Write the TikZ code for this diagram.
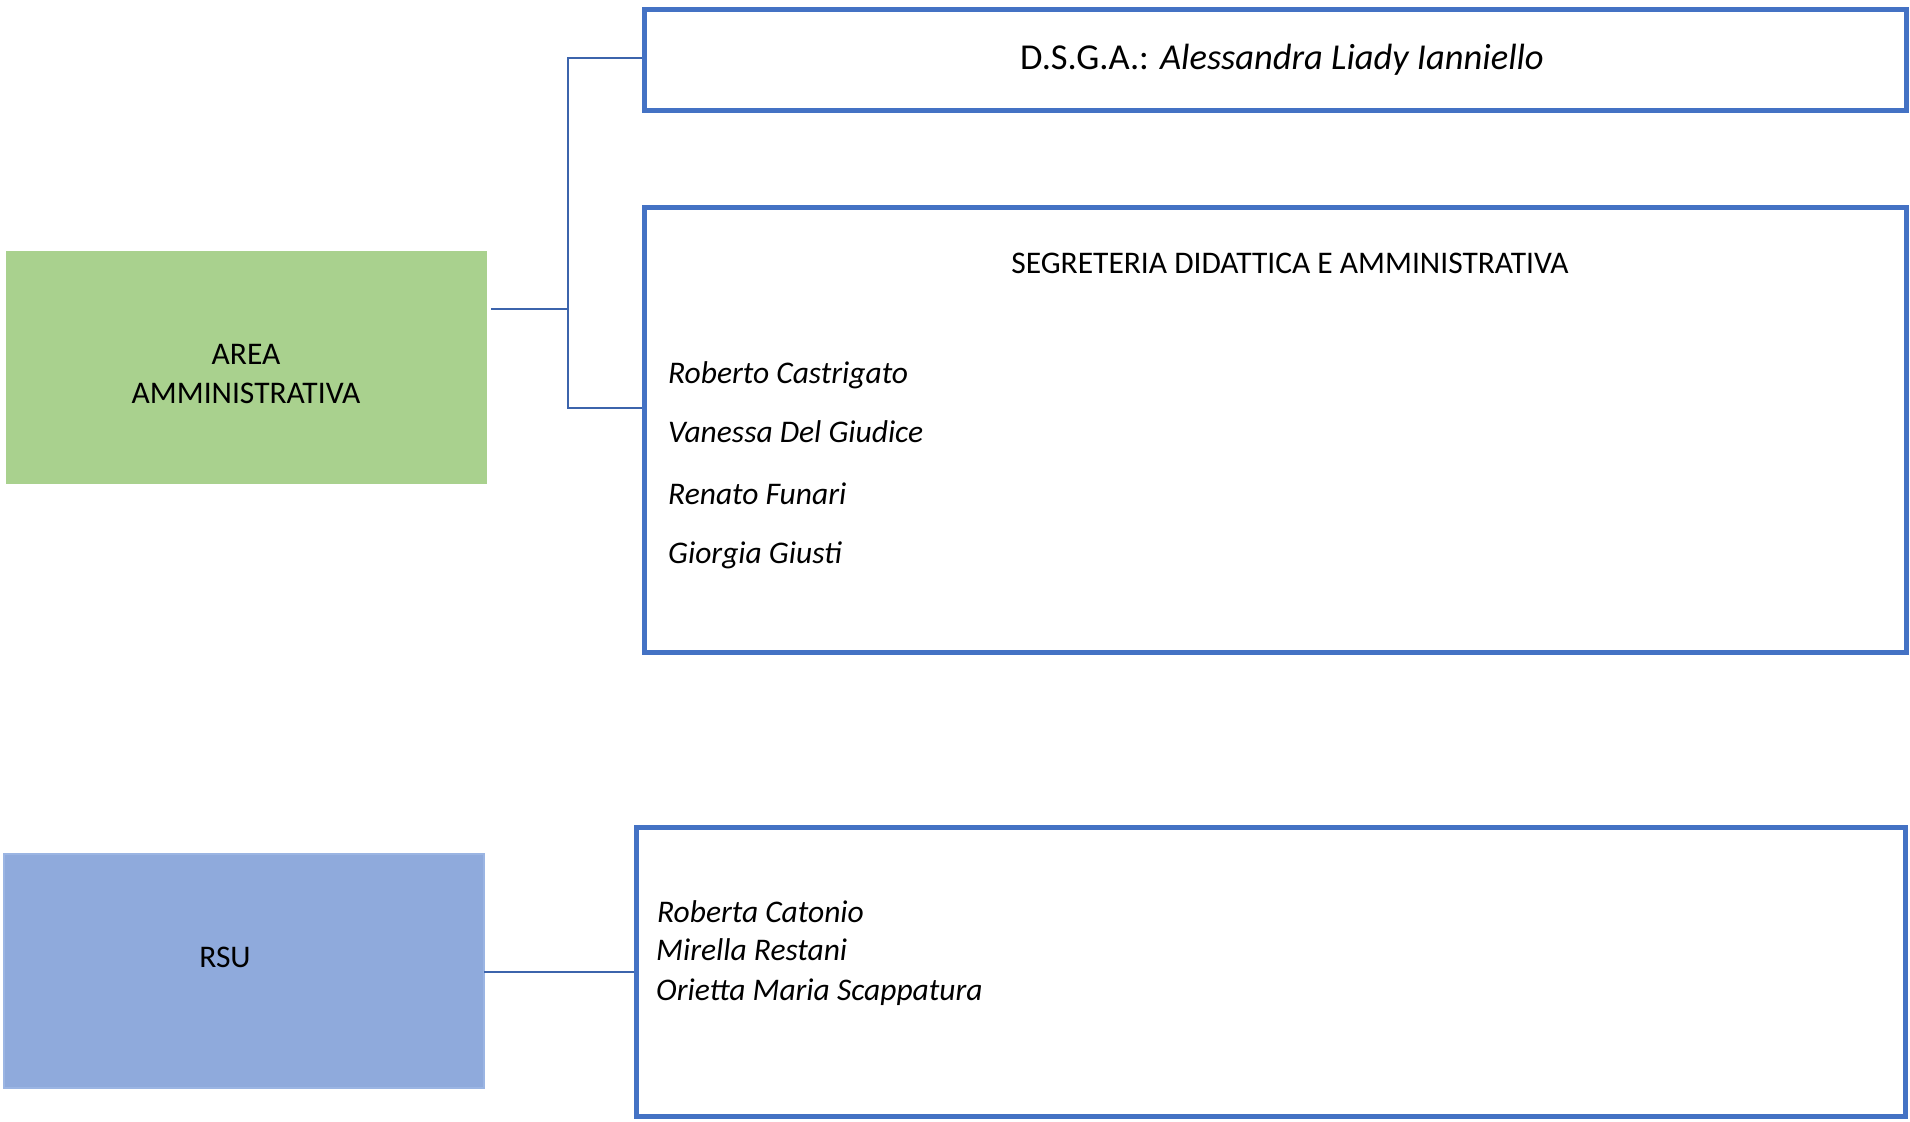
\documentclass[tikz,border=0pt]{standalone}
\usepackage{fontspec}
\setmainfont{Carlito}
\definecolor{boxblue}{HTML}{4472C4}
\definecolor{connblue}{HTML}{3C64AC}
\definecolor{areagreen}{HTML}{A9D18E}
\definecolor{rsublue}{HTML}{8FAADC}
\definecolor{rsuedge}{HTML}{9BB5E3}
\begin{document}
\begin{tikzpicture}[x=1pt,y=-1pt,
  boxline/.style={draw=boxblue,line width=5pt,fill=white,inner sep=0pt,outer sep=0pt},
  conn/.style={draw=connblue,line width=2.8pt},
  txtstyle/.style={font=\fontsize{31.5}{38.5}\selectfont,inner sep=0pt},
  person/.style={font=\fontsize{31.5}{38.5}\selectfont\itshape,inner sep=0pt,anchor=base west}]
\useasboundingbox (0,0) rectangle (1910,1121);
\fill[white] (0,0) rectangle (1910,1121);

% boxes
\node[fill=areagreen,minimum width=481pt,minimum height=233pt,inner sep=0pt,outer sep=0pt] (green) at (246.5,367.5) {};
\node[boxline,minimum width=1262pt,minimum height=101pt] (dsga) at (1275,60.5) {};
\node[boxline,minimum width=1262pt,minimum height=445pt] (seg) at (1275,429.5) {};
\node[fill=rsublue,draw=rsuedge,line width=2pt,minimum width=480pt,minimum height=234pt,inner sep=0pt,outer sep=0pt] (rsu) at (244,971) {};
\node[boxline,minimum width=1269pt,minimum height=289pt] (rsun) at (1270.5,971.5) {};

% texts
\node[txtstyle,align=center] (areatxt) at (246,374) {AREA\\AMMINISTRATIVA};
\node[txtstyle,font=\fontsize{36.5}{44}\selectfont,anchor=base] (dsgatxt) at (1282,70) {D.S.G.A.: \textit{Alessandra Liady Ianniello}};
\node[txtstyle,anchor=base] (segtxt) at (1290,273) {SEGRETERIA DIDATTICA E AMMINISTRATIVA};
\node[person] (n1) at (668,383) {Roberto Castrigato};
\node[person] (n2) at (668,442) {Vanessa Del Giudice};
\node[person] (n3) at (668,504) {Renato Funari};
\node[person] (n4) at (668,563) {Giorgia Giusti};
\node[txtstyle] (rsutxt) at (225,957) {RSU};
\node[person] (r1) at (657,922) {Roberta Catonio};
\node[person] (r2) at (656,960) {Mirella Restani};
\node[person] (r3) at (656,1000) {Orietta Maria Scappatura};

% connectors
\coordinate (bus) at (568,309);
\draw[conn] ([xshift=4pt]green.east |- bus) -- (bus);
\draw[conn] ([xshift=-2pt]dsga.west |- 0,58) -| (bus) |- ([xshift=-2pt]seg.west |- 0,408);
\draw[conn] (rsu.east |- 0,972) -- ([xshift=-2pt]rsun.west |- 0,972);
\end{tikzpicture}
\end{document}
